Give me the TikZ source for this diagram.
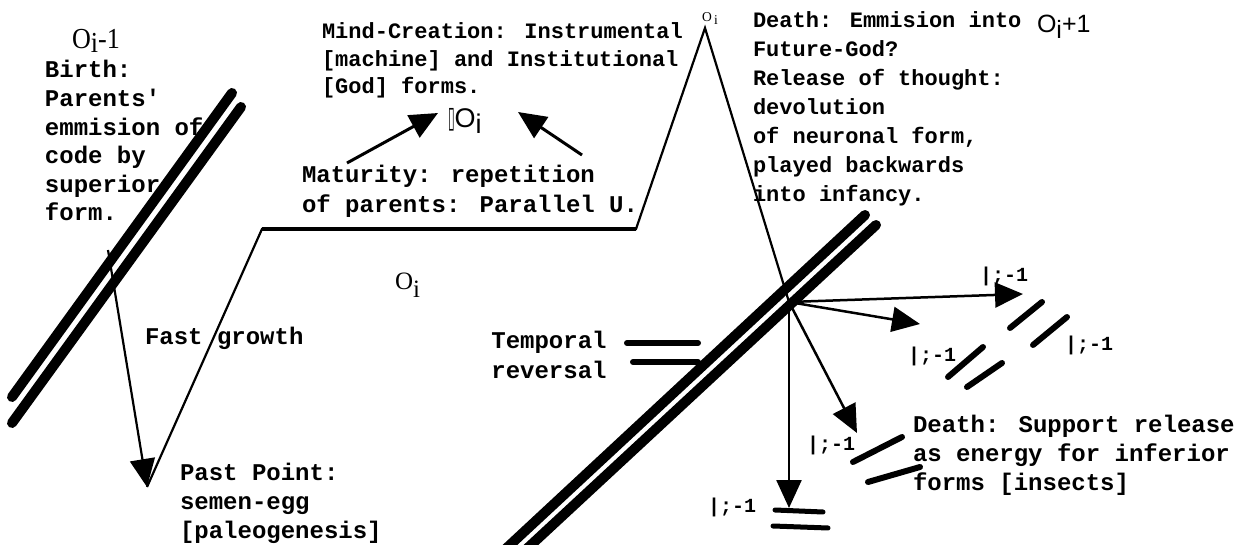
\documentclass[tikz,border=0pt]{standalone}
\usepackage{fontspec}
\usepackage{graphicx}
\usetikzlibrary{arrows.meta}
\newfontfamily\crb{Liberation Mono}
\newfontfamily\tms{Liberation Serif}
\newfontfamily\hlv{Liberation Sans}
\newfontfamily\djv{DejaVu Sans}
\tikzset{
  txt/.style={inner sep=0pt, outer sep=0pt, anchor=base west, align=left},
  tA/.style={txt, font=\crb\bfseries\fontsize{24}{28.6}\selectfont},
  tB/.style={txt, font=\crb\bfseries\fontsize{22}{28}\selectfont},
  tC/.style={txt, font=\crb\bfseries\fontsize{20}{24}\selectfont},
  olab/.style={inner sep=0pt, outer sep=0pt, anchor=base west},
  thick bar/.style={line width=10pt, line cap=round},
  bar/.style={line width=6pt, line cap=round},
  thin/.style={line width=2.2pt},
  arr/.style={line width=2.5pt, -{Triangle[length=28pt,width=25pt]}},
}
\begin{document}
\begin{tikzpicture}[x=1pt,y=-1pt]
\useasboundingbox (0,0) rectangle (1251,545);
\clip (0,0) rectangle (1251,545);
% key points
\coordinate (P1) at (147,487);
\coordinate (P2) at (262,229);
\coordinate (P3) at (636,229);
\coordinate (A) at (705,28);
\coordinate (C) at (789,302);
\coordinate (FG) at (108,250);
% left double line
\coordinate (L1a) at (232,93);  \coordinate (L1b) at (12,397);
\coordinate (L2a) at (241,107); \coordinate (L2b) at (12,423);
\draw[thick bar] (L1a) -- (L1b);
\draw[thick bar] (L2a) -- (L2b);
% right double line
\coordinate (R1a) at (865,215); \coordinate (R1b) at (483,570);
\coordinate (R2a) at (876,225); \coordinate (R2b) at (504,570);
\draw[thick bar] (R1a) -- (R1b);
\draw[thick bar] (R2a) -- (R2b);
% zig-zag life line
\draw[thin, line join=miter] (P1) -- (P2) -- (P3) -- (A) -- (C);
\draw[line width=4pt] (P2) -- (P3);
% fast growth arrow
\draw[arr, line width=2.2pt] (FG) -- (P1);
% arrows to IOi
\coordinate (M1) at (347,163); \coordinate (M1t) at (438,113);
\coordinate (M2) at (582,155); \coordinate (M2t) at (518,112);
\draw[arr, line width=3pt] (M1) -- (M1t);
\draw[arr, line width=3pt] (M2) -- (M2t);
% rays from C
\coordinate (E1) at (1023,294);
\coordinate (E2) at (920,324);
\coordinate (E3) at (857,433);
\coordinate (E4) at (789,508);
\draw[arr] (C) -- (E1);
\draw[arr] (C) -- (E2);
\draw[arr] (C) -- (E3);
\draw[arr] (C) -- (E4);
% temporal reversal bars
\coordinate (T1a) at (627,343); \coordinate (T1b) at (698,343);
\coordinate (T2a) at (633,362); \coordinate (T2b) at (698,362);
\draw[bar] (T1a) -- (T1b);
\draw[bar] (T2a) -- (T2b);
% bottom bars
\coordinate (B1a) at (775,510); \coordinate (B1b) at (823,512);
\coordinate (B2a) at (773,526); \coordinate (B2b) at (828,528);
\draw[bar, line width=5pt] (B1a) -- (B1b);
\draw[bar, line width=5pt] (B2a) -- (B2b);
% slanted pairs
\coordinate (Aa1) at (1010,328); \coordinate (Ab1) at (1042,302);
\coordinate (Aa2) at (1033,345); \coordinate (Ab2) at (1067,317);
\draw[bar] (Aa1) -- (Ab1);
\draw[bar] (Aa2) -- (Ab2);
\coordinate (Ba1) at (948,377); \coordinate (Bb1) at (983,347);
\coordinate (Ba2) at (967,387); \coordinate (Bb2) at (1002,363);
\draw[bar] (Ba1) -- (Bb1);
\draw[bar] (Ba2) -- (Bb2);
\coordinate (Ca1) at (853,462); \coordinate (Cb1) at (902,437);
\coordinate (Ca2) at (868,482); \coordinate (Cb2) at (920,467);
\draw[bar] (Ca1) -- (Cb1);
\draw[bar] (Ca2) -- (Cb2);
% texts (base anchor = baseline of the last line)
\node[tA] (birth) at (45,221) {Birth:\\Parents'\\emmision of\\code by\\superior\\form.};
\node[tB, font=\crb\bfseries\fontsize{22}{27.5}\selectfont] (mind) at (322,94) {Mind-Creation: Instrumental\\{[}machine] and Institutional\\{[}God] forms.};
\node[tA, font=\crb\bfseries\fontsize{24}{30}\selectfont] (matur) at (302,213) {Maturity: repetition\\of parents: Parallel U.};
\node[tB, font=\crb\bfseries\fontsize{22}{29}\selectfont] (death1) at (753,202) {Death: Emmision into\\Future-God?\\Release of thought:\\devolution\\of neuronal form,\\played backwards\\into infancy.};
\node[tA] (fast) at (145,345) {Fast growth};
\node[tA] (past) at (180,538) {Past Point:\\semen-egg\\{[}paleogenesis]};
\node[tA, font=\crb\bfseries\fontsize{24}{29}\selectfont, anchor=base, align=center] (temp) at (549,378) {Temporal\\reversal};
\node[tA, font=\crb\bfseries\fontsize{24}{29}\selectfont] (death2) at (913,490) {Death: Support release\\as energy for inferior\\forms {[}insects]};
% small labels
\node[tC] (l1) at (980,282) {|;-1};
\node[tC] (l2) at (1065,351) {|;-1};
\node[tC] (l3) at (908,362) {|;-1};
\node[tC] (l4) at (807,450) {|;-1};
\node[tC] (l5) at (708,512) {|;-1};
% O labels
\node[olab, font=\tms\fontsize{29}{29}\selectfont] (oim1) at (72,49) {\scalebox{0.9}[1]{O\raisebox{-4pt}{i}-1}};
\node[olab, font=\tms\fontsize{25}{25}\selectfont] (oimid) at (395,290) {O\raisebox{-8pt}{i}};
\node[olab, font=\tms\fontsize{13.5}{13.5}\selectfont] (oapex) at (702,22) {O\raisebox{-3pt}{\,i}};
\node[olab, font=\hlv\fontsize{25}{25}\selectfont] (oip1) at (1037,33) {O\raisebox{-6pt}{i}+1};
\node[olab, font=\hlv\fontsize{27}{27}\selectfont] (ioi) at (448,128) {{\djv\scalebox{0.45}[1.1]{▯}}O\raisebox{-6pt}{i}};
\end{tikzpicture}
\end{document}
